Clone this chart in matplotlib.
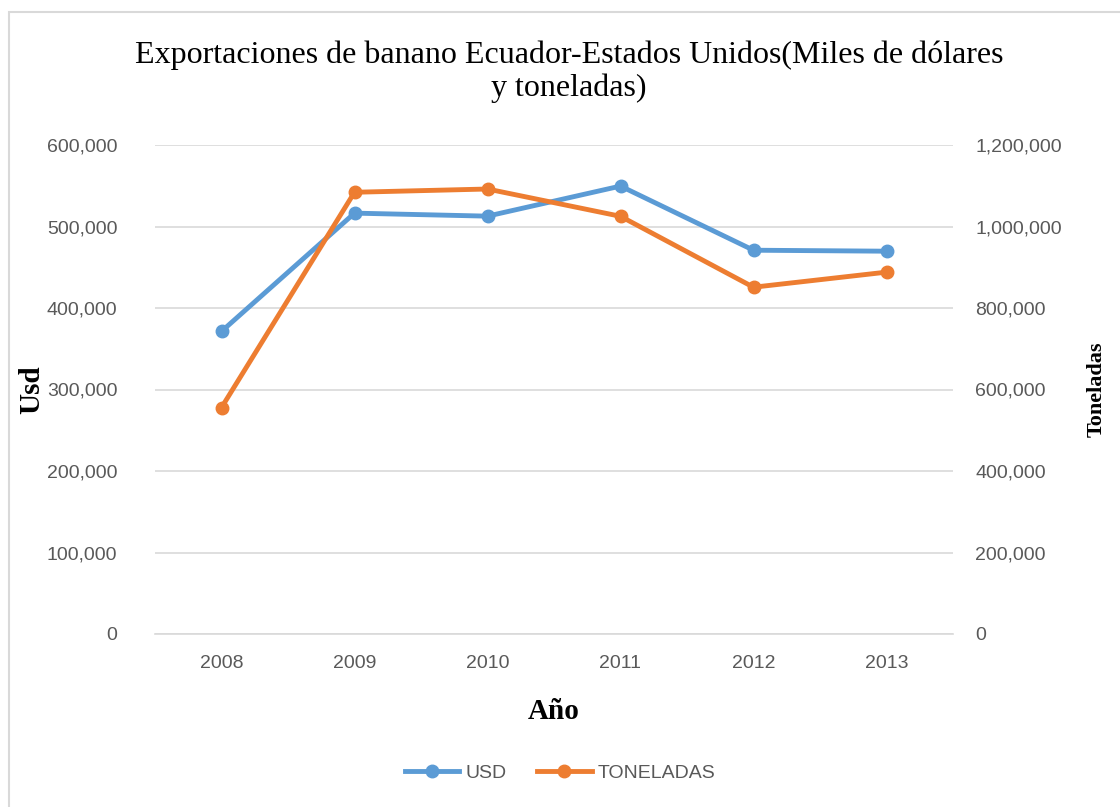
import matplotlib.pyplot as plt
from matplotlib.patches import Rectangle
from matplotlib.ticker import FuncFormatter

years = ["2008", "2009", "2010", "2011", "2012", "2013"]
usd = [371300, 516400, 512700, 549600, 470900, 469700]
toneladas = [555700, 1084000, 1092000, 1025000, 851000, 888000]

blue = "#5B9BD5"
orange = "#ED7D31"
grid = "#D9D9D9"
tick_col = "#595959"
serif = ["Liberation Serif", "DejaVu Serif"]
sans = ["Liberation Sans", "DejaVu Sans"]

fig = plt.figure(figsize=(11.2, 8.07), dpi=100)
ax = fig.add_axes([155 / 1120, 1 - 634 / 807, (953 - 155) / 1120, (634 - 145) / 807])
ax2 = ax.twinx()

x = list(range(len(years)))
l1, = ax.plot(x, usd, color=blue, lw=3.5, marker="o", ms=9, label="USD", zorder=3)
l2, = ax2.plot(x, toneladas, color=orange, lw=3.5, marker="o", ms=9, label="TONELADAS", zorder=3)

ax.set_xlim(-0.5, 5.5)
ax.set_ylim(0, 600000)
ax2.set_ylim(0, 1200000)
ax.set_yticks(range(0, 600001, 100000))
ax2.set_yticks(range(0, 1200001, 200000))
ax.set_xticks(x)
ax.set_xticklabels(years)

fmt = FuncFormatter(lambda v, p: f"{int(v):,}")
ax.yaxis.set_major_formatter(fmt)
ax2.yaxis.set_major_formatter(fmt)

ax.grid(axis="y", color=grid, lw=1.2)
ax.set_axisbelow(True)
for a in (ax, ax2):
    for s in a.spines.values():
        s.set_visible(False)
    a.tick_params(length=0, colors=tick_col, labelsize=14)
    for lab in a.get_xticklabels() + a.get_yticklabels():
        lab.set_family(sans)
ax.spines["bottom"].set_visible(True)
ax.spines["bottom"].set_color(grid)
ax.spines["bottom"].set_linewidth(1.2)
ax.tick_params(axis="y", pad=27)
ax.tick_params(axis="x", pad=15)
ax2.tick_params(axis="y", pad=16)

ax.set_ylabel("Usd", family=serif, fontsize=21, fontweight="bold")
ax.yaxis.set_label_coords(-0.138, 0.5)
ax.set_xlabel("Año", family=serif, fontsize=21, fontweight="bold")
ax.xaxis.set_label_coords(0.5, -0.13)
ax2.set_ylabel("Toneladas", family=serif, fontsize=16, fontweight="bold", rotation=90)
ax2.yaxis.set_label_coords(1.168, 0.5)

fig.text(0.508, 1 - 72 / 807,
         "Exportaciones de banano Ecuador-Estados Unidos(Miles de dólares\ny toneladas)",
         ha="center", va="center", family=serif, fontsize=23, linespacing=1.15)

leg = fig.legend([l1, l2], ["USD", "TONELADAS"], loc="center",
                 bbox_to_anchor=(0.5, 1 - 773 / 807), ncol=2, frameon=False,
                 handlelength=2.8, handletextpad=0.3, columnspacing=1.6,
                 prop={"family": sans, "size": 14})
for t in leg.get_texts():
    t.set_color(tick_col)

fig.patches.append(Rectangle((9 / 1120, -0.1), 1.2, 1.1 - 12 / 807,
                             transform=fig.transFigure, fill=False,
                             edgecolor=grid, lw=1.5))

fig.savefig("out.png", dpi=100)
